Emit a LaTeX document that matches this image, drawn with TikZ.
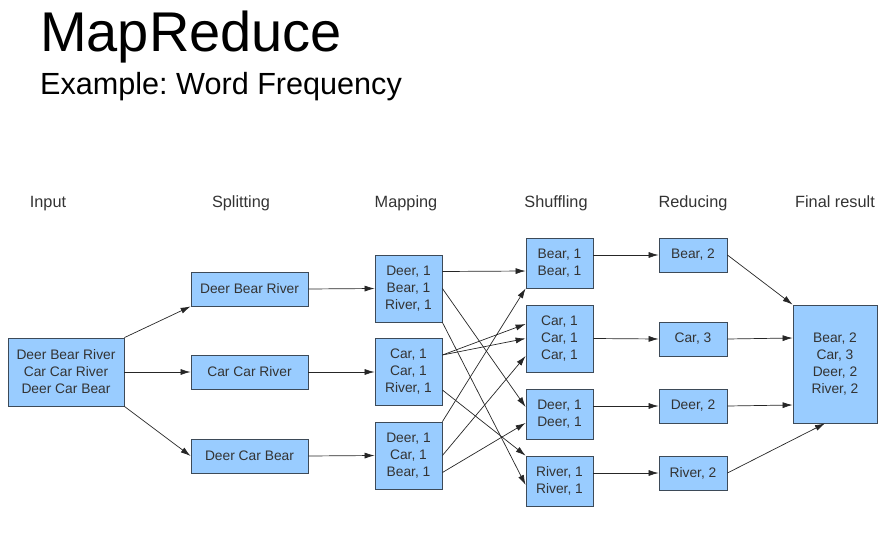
\documentclass[tikz,border=0pt]{standalone}
\usepackage{fontspec}
\setmainfont{Liberation Sans}
\usetikzlibrary{arrows.meta}
\definecolor{boxblue}{HTML}{99CCFF}
\definecolor{boxline}{HTML}{3D4A58}
\definecolor{inkgray}{HTML}{333333}
\frenchspacing
\begin{document}
\begin{tikzpicture}[x=1pt,y=-1pt,
    every node/.style={inner sep=0pt},
    box/.style={draw=boxline,line width=0.8pt,fill=boxblue,text=inkgray,align=center,
        font=\fontsize{13.8}{17}\selectfont},
    stage/.style={anchor=base,text=inkgray,font=\fontsize{16.3}{19}\selectfont},
    flow/.style={draw=black!85,line width=0.7pt,-{Latex[length=10pt,width=6pt]}}]
    \useasboundingbox (0,0) rectangle (888,543);
    % title
    \node [anchor=base west,font=\fontsize{56}{60}\selectfont] (title) at (40,52) {MapReduce};
    \node [anchor=base west,font=\fontsize{30.6}{34}\selectfont] (subtitle) at (40,94) {Example: Word Frequency};
    % stage labels
    \node [stage] (lin) at (48,207) {Input};
    \node [stage] (lsplit) at (241,207) {Splitting};
    \node [stage] (lmap) at (406,207) {Mapping};
    \node [stage] (lshuf) at (556,207) {Shuffling};
    \node [stage] (lred) at (693,207) {Reducing};
    \node [stage] (lfin) at (835,207) {Final result};
    % input and splits
    \node [box,minimum width=116pt,minimum height=68pt] (in) at (66,372) {Deer Bear River\\Car Car River\\Deer Car Bear};
    \node [box,minimum width=117pt,minimum height=34pt] (s1) at (249.5,289) {Deer Bear River};
    \node [box,minimum width=117pt,minimum height=34pt] (s2) at (249.5,372) {Car Car River};
    \node [box,minimum width=117pt,minimum height=34pt] (s3) at (249.5,456) {Deer Car Bear};
    % mapping
    \node [box,minimum width=67pt,minimum height=67pt] (m1) at (408.5,288.5) {Deer, 1\\Bear, 1\\River, 1};
    \node [box,minimum width=67pt,minimum height=67pt] (m2) at (408.5,372) {Car, 1\\Car, 1\\River, 1};
    \node [box,minimum width=67pt,minimum height=67pt] (m3) at (408.5,455.5) {Deer, 1\\Car, 1\\Bear, 1};
    % shuffling
    \node [box,minimum width=67pt,minimum height=50pt] (sb) at (559.5,263) {Bear, 1\\Bear, 1};
    \node [box,minimum width=67pt,minimum height=67pt] (sc) at (559.5,338.5) {Car, 1\\Car, 1\\Car, 1};
    \node [box,minimum width=67pt,minimum height=50pt] (sd) at (559.5,414) {Deer, 1\\Deer, 1};
    \node [box,minimum width=67pt,minimum height=50pt] (sr) at (559.5,481) {River, 1\\River, 1};
    % reducing
    \node [box,minimum width=68pt,minimum height=34pt] (rb) at (693,255) {Bear, 2};
    \node [box,minimum width=68pt,minimum height=34pt] (rc) at (693,339) {Car, 3};
    \node [box,minimum width=68pt,minimum height=34pt] (rd) at (693,406) {Deer, 2};
    \node [box,minimum width=68pt,minimum height=34pt] (rr) at (693,473) {River, 2};
    % final
    \node [box,minimum width=84pt,minimum height=118pt] (fin) at (835,364) {Bear, 2\\Car, 3\\Deer, 2\\River, 2};
    % input to splits
    \draw [flow] (in.north east) -- (s1.south west);
    \draw [flow] (in.east) -- (s2.west);
    \draw [flow] (in.south east) -- (s3.west);
    % splits to mapping
    \draw [flow] (s1.east) -- (m1.west);
    \draw [flow] (s2.east) -- (m2.west);
    \draw [flow] (s3.east) -- (m3.west);
    % mapping to shuffling
    \draw [flow] ([yshift=17pt]m1.east) -- ([yshift=-8pt]sb.west);
    \draw [flow] (m1.east) -- ([yshift=7pt]sd.west);
    \draw [flow] (m1.south east) -- ([yshift=-4pt]sr.west);
    \draw [flow] ([yshift=17pt]m2.east) -- ([yshift=14.5pt]sc.west);
    \draw [flow] ([yshift=17pt]m2.east) -- (sc.west);
    \draw [flow] ([yshift=-18pt]m2.east) -- (sr.north west);
    \draw [flow] (m3.north east) -- (sb.south west);
    \draw [flow] (m3.east) -- ([yshift=-17.5pt]sc.west);
    \draw [flow] ([yshift=-17pt]m3.east) -- ([yshift=-9pt]sd.west);
    % shuffling to reducing
    \draw [flow] ([yshift=8pt]sb.east) -- (rb.west);
    \draw [flow] (sc.east) -- (rc.west);
    \draw [flow] ([yshift=8pt]sd.east) -- (rd.west);
    \draw [flow] ([yshift=8pt]sr.east) -- (rr.west);
    % reducing to final
    \draw [flow] (rb.east) -- (fin.north west);
    \draw [flow] (rc.east) -- ([yshift=26pt]fin.west);
    \draw [flow] (rd.east) -- ([yshift=-41pt]fin.west);
    \draw [flow] (rr.east) -- ([xshift=-10pt]fin.south);
\end{tikzpicture}
\end{document}
